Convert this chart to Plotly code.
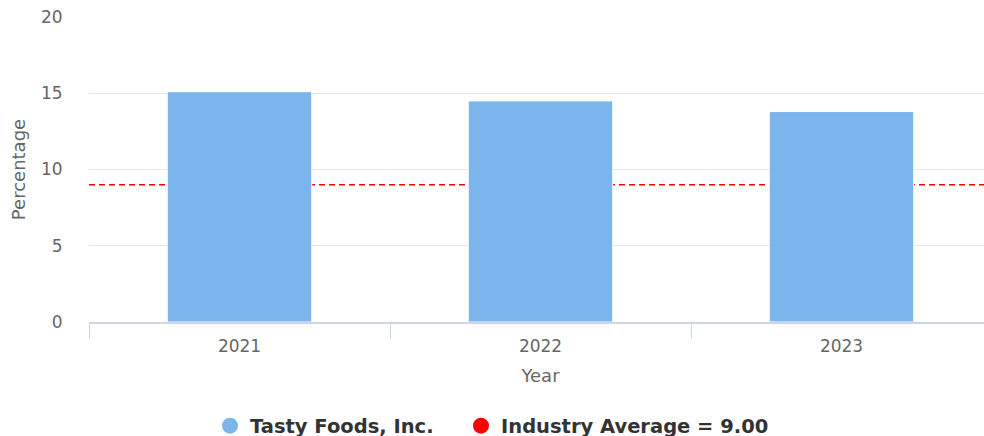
import plotly.graph_objects as go

# Données
years = ["2021", "2022", "2023"]
company_values = [15.1, 14.5, 13.8]
company_name = "Tasty Foods, Inc."
industry_average = 9.00

BAR_COLOR = "#7cb5ec"
FONT = "DejaVu Sans"

fig = go.Figure()

# Barres de l'entreprise
fig.add_trace(go.Bar(
    x=years,
    y=company_values,
    width=0.48,
    marker=dict(color=BAR_COLOR, line=dict(color="#ffffff", width=1)),
    showlegend=False,
))

# Entrées de légende (marqueurs ronds), une légende par entrée
fig.add_trace(go.Scatter(
    x=[None], y=[None], mode="markers", name=company_name,
    marker=dict(color=BAR_COLOR, size=18, symbol="circle"),
    legend="legend",
))
fig.add_trace(go.Scatter(
    x=[None], y=[None], mode="markers",
    name=f"Industry Average = {industry_average:.2f}",
    marker=dict(color="#ff0000", size=18, symbol="circle"),
    legend="legend2",
))

# Ligne de moyenne de l'industrie (sous les barres)
fig.add_shape(
    type="line", xref="x domain", yref="y",
    x0=0, x1=1, y0=industry_average, y1=industry_average,
    line=dict(color="#ff0000", width=1.5, dash="6px,4px"),
    layer="below",
)

fig.update_xaxes(
    type="category",
    automargin=False,
    tickson="boundaries",
    ticks="outside", ticklen=15, tickcolor="#ccd6eb", tickwidth=1,
    ticklabelstandoff=8,
    showline=True, linecolor="#ccd6eb", linewidth=1.5,
    showgrid=False,
    tickfont=dict(family=FONT, size=17, color="#666666"),
    title=dict(text="Year", font=dict(family=FONT, size=18, color="#666666"), standoff=14),
)
fig.update_yaxes(
    range=[0, 20], dtick=5,
    automargin=False,
    showgrid=True, gridcolor="#e6e6e6", gridwidth=1,
    zeroline=False,
    ticks="outside", ticklen=22, tickcolor="rgba(0,0,0,0)",
    tickfont=dict(family=FONT, size=17, color="#666666"),
    title=dict(text="Percentage", font=dict(family=FONT, size=18, color="#666666"), standoff=10),
)

# Largeur de la zone de tracé : 992 - 89 = 903 px
legend_style = dict(
    orientation="h", y=-0.341, yanchor="middle", xanchor="left",
    font=dict(family=FONT, size=19.5, color="#333333", weight="bold"),
    itemsizing="trace",
)

fig.update_layout(
    width=992, height=436,
    margin=dict(l=89, r=0, t=17, b=114, autoexpand=False),
    paper_bgcolor="#ffffff",
    plot_bgcolor="#ffffff",
    font=dict(family=FONT),
    legend=dict(legend_style, x=(210 - 89) / 903),
    legend2=dict(legend_style, x=(461 - 89) / 903),
)

fig.write_html(
    "out.html",
    config={"displayModeBar": False},
    post_script="document.body.style.margin = '0'; document.body.style.overflow = 'hidden';",
)
